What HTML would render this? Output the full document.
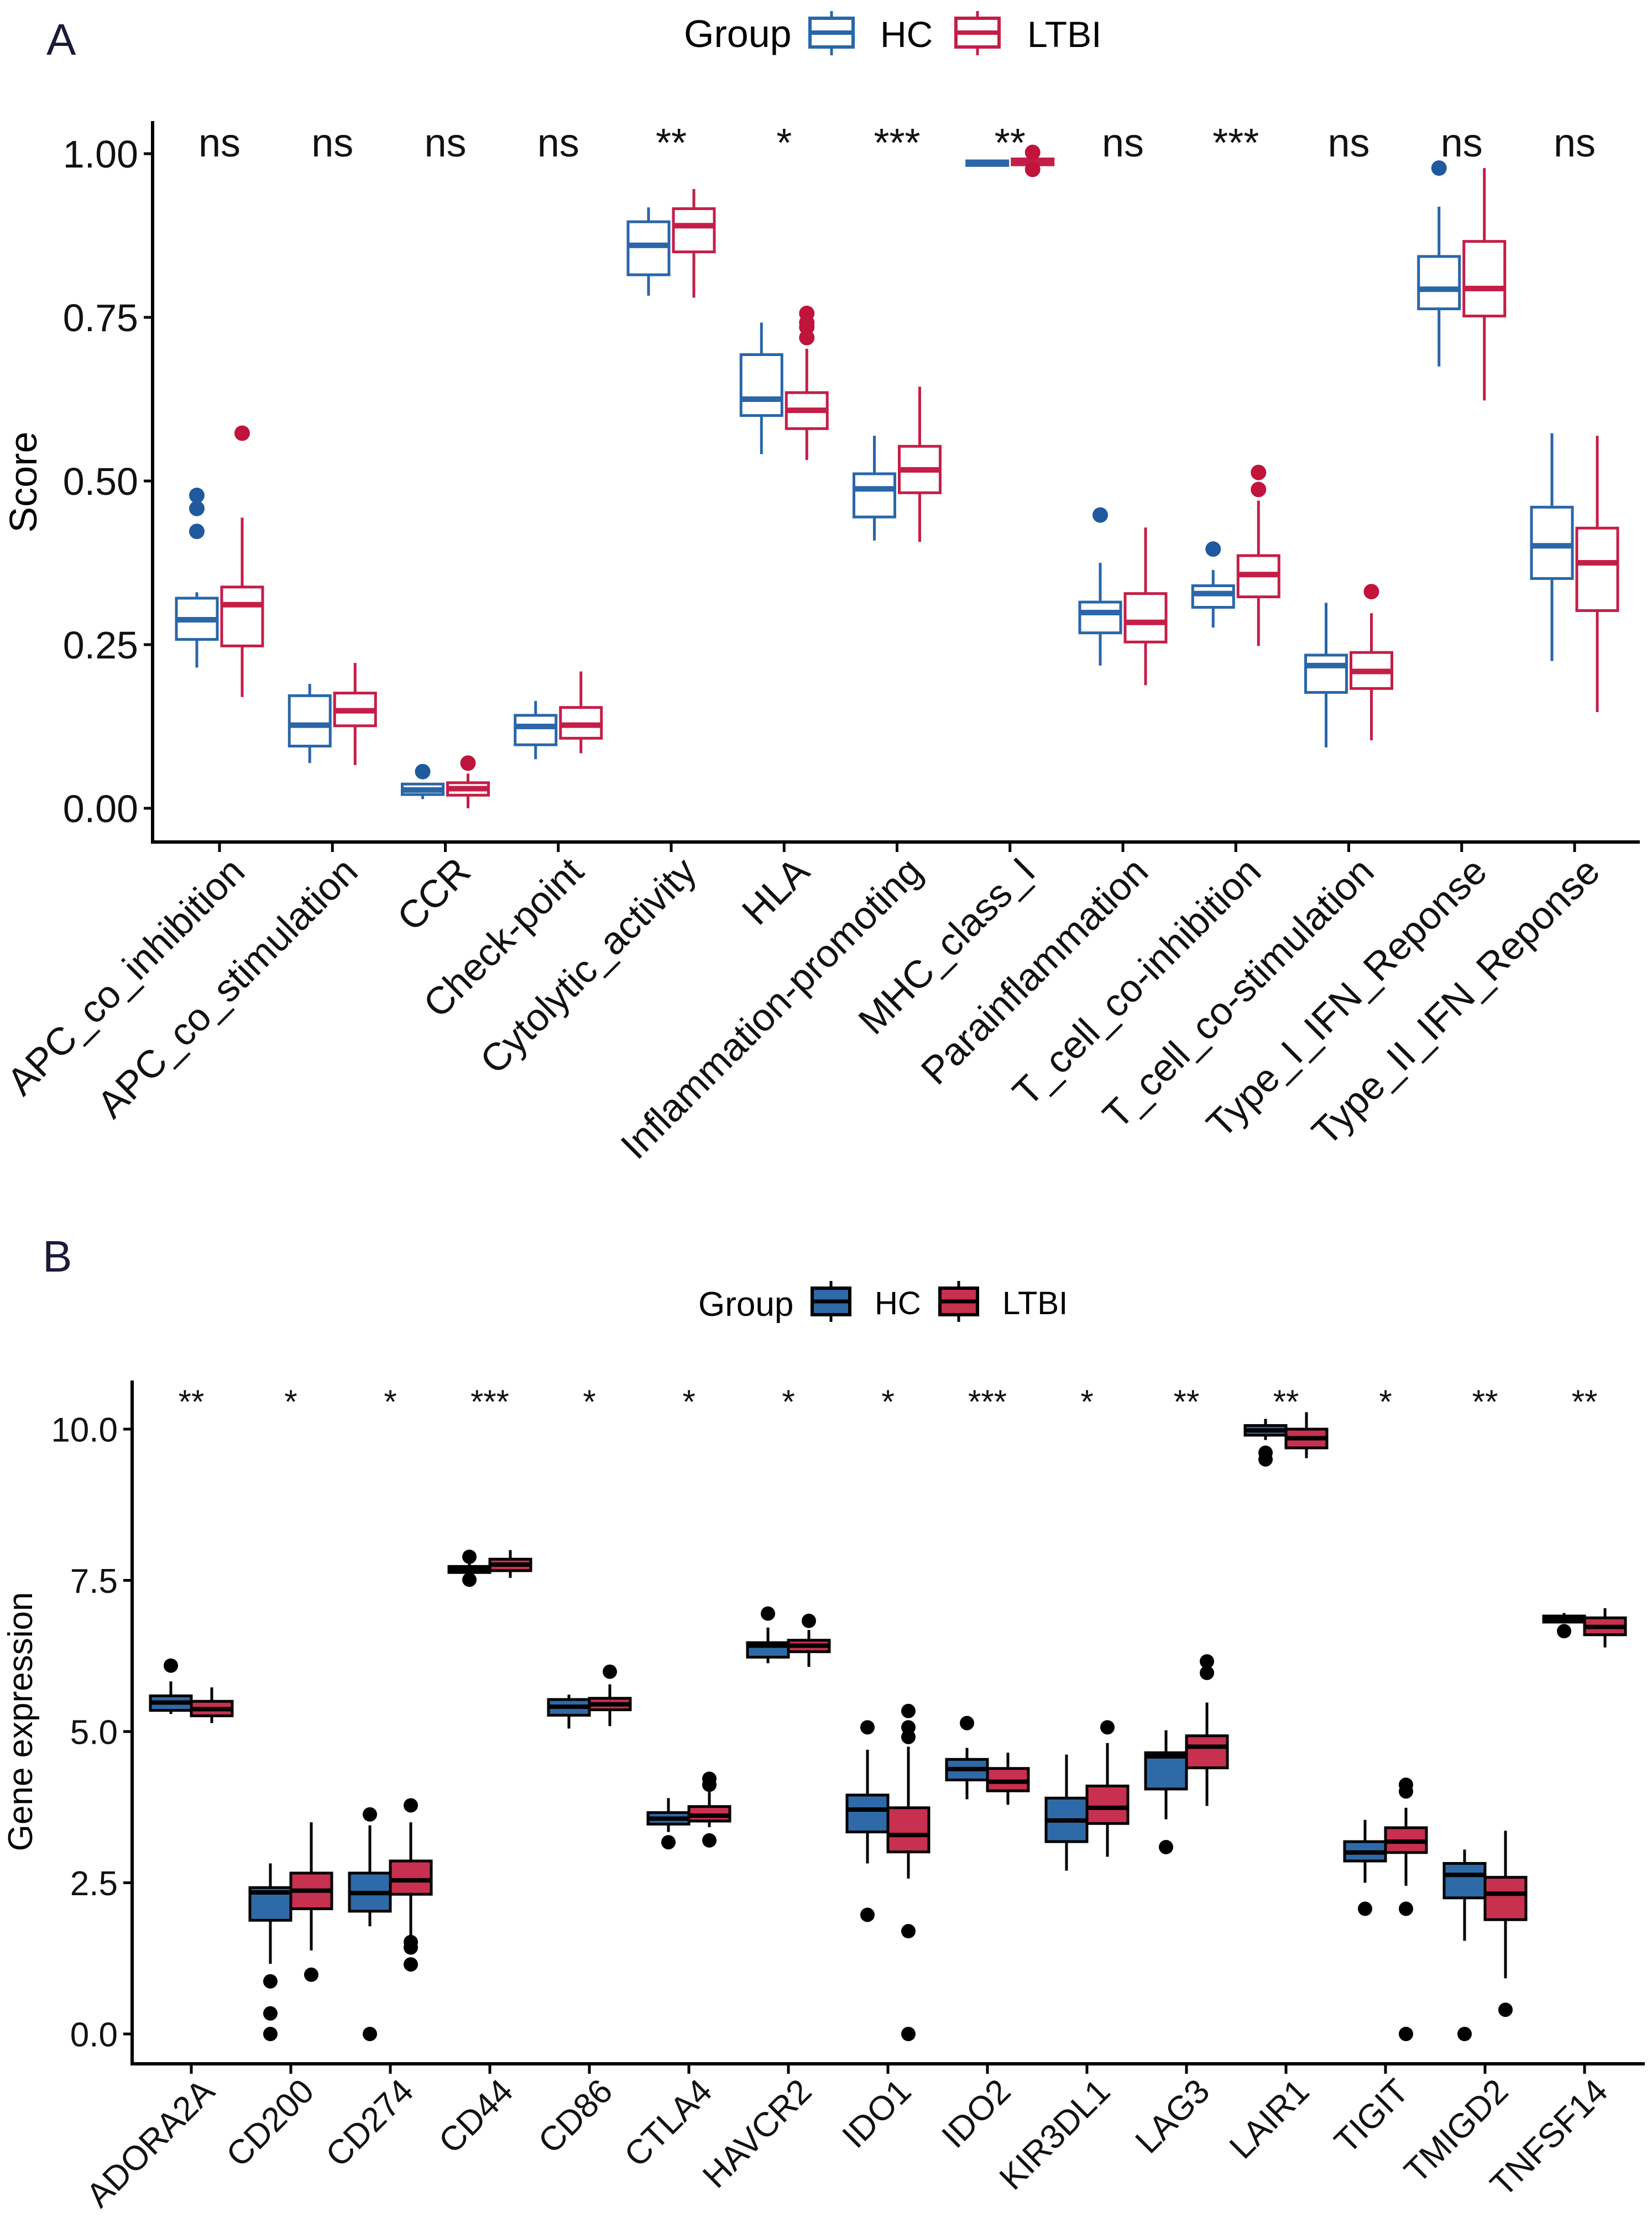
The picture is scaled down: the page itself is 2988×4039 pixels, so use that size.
<!DOCTYPE html>
<html><head><meta charset="utf-8">
<style>
html,body{margin:0;padding:0;background:#fff;}
svg{display:block;font-family:"Liberation Sans",Arial,sans-serif;}
</style></head>
<body>
<svg id="chart" width="2988" height="4039" viewBox="0 0 2988 4039" xmlns="http://www.w3.org/2000/svg">
<rect width="2988" height="4039" fill="#fff"/>
<text x="84" y="99" font-size="80" fill="#1a1a3a">A</text>
<text x="77" y="2300" font-size="80" fill="#1a1a3a">B</text>
<g>
<text x="1237" y="85" font-size="70">Group</text>
<g>
<line x1="1504" y1="20" x2="1504" y2="100" stroke="#2a66a8" stroke-width="5"/>
<rect x="1465" y="33" width="78" height="52" fill="#fff" stroke="#2a66a8" stroke-width="6"/>
<line x1="1465" y1="59" x2="1543" y2="59" stroke="#2a66a8" stroke-width="8"/>
<text x="1592" y="85" font-size="66">HC</text></g>
<g>
<line x1="1768" y1="20" x2="1768" y2="100" stroke="#c41e48" stroke-width="5"/>
<rect x="1729" y="33" width="78" height="52" fill="#fff" stroke="#c41e48" stroke-width="6"/>
<line x1="1729" y1="59" x2="1807" y2="59" stroke="#c41e48" stroke-width="8"/>
<text x="1858" y="85" font-size="66">LTBI</text></g>
</g>
<g>
<text x="1263" y="2380" font-size="62">Group</text>
<g>
<line x1="1503" y1="2317" x2="1503" y2="2391" stroke="#000" stroke-width="5"/>
<rect x="1469" y="2330" width="68" height="48" fill="#2f6aa8" stroke="#000" stroke-width="6"/>
<line x1="1469" y1="2354" x2="1537" y2="2354" stroke="#000" stroke-width="7"/>
<text x="1582" y="2377" font-size="58">HC</text></g>
<g>
<line x1="1734" y1="2317" x2="1734" y2="2391" stroke="#000" stroke-width="5"/>
<rect x="1700" y="2330" width="68" height="48" fill="#c8304f" stroke="#000" stroke-width="6"/>
<line x1="1700" y1="2354" x2="1768" y2="2354" stroke="#000" stroke-width="7"/>
<text x="1813" y="2377" font-size="58">LTBI</text></g>
</g>
<text transform="translate(66,872) rotate(-90)" text-anchor="middle" font-size="70">Score</text>
<text transform="translate(58,3114) rotate(-90)" text-anchor="middle" font-size="62">Gene expression</text>
<g id="pa"></g>
<g id="pb"></g>
</svg>
<script>
// ---- Panel A data ----
const categoriesA = ["APC_co_inhibition","APC_co_stimulation","CCR","Check-point","Cytolytic_activity","HLA","Inflammation-promoting","MHC_class_I","Parainflammation","T_cell_co-inhibition","T_cell_co-stimulation","Type_I_IFN_Reponse","Type_II_IFN_Reponse"];
const signifA = ["ns","ns","ns","ns","**","*","***","**","ns","***","ns","ns","ns"];
const ticksA = [0,0.25,0.5,0.75,1.0];
const tickLabelsA = ["0.00","0.25","0.50","0.75","1.00"];
// [whiskerLow, q1, median, q3, whiskerHigh]
const hcStatsA = [[0.215,0.258,0.288,0.321,0.330],[0.069,0.095,0.127,0.172,0.190],[0.014,0.021,0.028,0.037,0.037],[0.075,0.097,0.125,0.142,0.164],[0.783,0.815,0.860,0.896,0.918],[0.541,0.600,0.625,0.693,0.742],[0.409,0.445,0.488,0.511,0.569],[0.984,0.982,0.986,0.989,0.990],[0.218,0.268,0.299,0.315,0.375],[0.276,0.307,0.328,0.340,0.364],[0.093,0.177,0.218,0.234,0.314],[0.675,0.763,0.793,0.843,0.919],[0.225,0.351,0.401,0.460,0.573]];
const ltbiStatsA = [[0.170,0.248,0.311,0.338,0.444],[0.066,0.126,0.149,0.176,0.222],[0.0,0.020,0.030,0.039,0.053],[0.084,0.107,0.127,0.154,0.209],[0.780,0.850,0.890,0.916,0.946],[0.532,0.580,0.608,0.635,0.702],[0.407,0.482,0.517,0.553,0.644],[0.980,0.983,0.988,0.992,0.995],[0.188,0.254,0.284,0.328,0.429],[0.248,0.323,0.357,0.386,0.470],[0.104,0.183,0.209,0.238,0.298],[0.623,0.752,0.794,0.866,0.978],[0.147,0.302,0.375,0.428,0.569]];
const hcOutA = [[0.478,0.458,0.423],[],[0.056],[],[],[],[],[],[0.448],[0.396],[],[0.978],[]];
const ltbiOutA = [[0.573],[],[0.069],[],[],[0.756,0.742,0.735,0.719],[],[1.002,0.976],[],[0.513,0.487],[0.331],[],[]];
// ---- Panel B data ----
const categoriesB = ["ADORA2A","CD200","CD274","CD44","CD86","CTLA4","HAVCR2","IDO1","IDO2","KIR3DL1","LAG3","LAIR1","TIGIT","TMIGD2","TNFSF14"];
const signifB = ["**","*","*","***","*","*","*","*","***","*","**","**","*","**","**"];
const ticksB = [0,2.5,5,7.5,10];
const tickLabelsB = ["0.0","2.5","5.0","7.5","10.0"];
const hcStatsB = [[5.29,5.35,5.48,5.59,5.83],[1.16,1.88,2.34,2.42,2.82],[1.78,2.03,2.33,2.66,3.45],[7.58,7.63,7.68,7.73,7.78],[5.05,5.27,5.41,5.53,5.61],[3.34,3.47,3.56,3.66,3.90],[6.13,6.23,6.42,6.47,6.72],[2.82,3.34,3.71,3.95,4.70],[3.88,4.20,4.38,4.54,4.73],[2.70,3.18,3.53,3.90,4.62],[3.55,4.05,4.59,4.65,5.02],[9.82,9.90,9.98,10.06,10.17],[2.50,2.86,3.00,3.18,3.54],[1.54,2.25,2.63,2.82,3.05],[6.81,6.81,6.87,6.91,6.96]];
const ltbiStatsB = [[5.14,5.26,5.37,5.50,5.73],[1.38,2.07,2.37,2.66,3.50],[1.62,2.31,2.54,2.86,3.50],[7.54,7.66,7.76,7.85,8.00],[5.09,5.36,5.45,5.55,5.78],[3.42,3.52,3.61,3.76,4.00],[6.07,6.32,6.42,6.51,6.68],[2.57,3.01,3.29,3.74,4.75],[3.79,4.02,4.17,4.39,4.65],[2.93,3.48,3.74,4.10,4.81],[3.77,4.40,4.75,4.93,5.48],[9.52,9.69,9.85,10.00,10.28],[2.45,3.00,3.18,3.41,3.74],[0.92,1.89,2.32,2.59,3.36],[6.39,6.60,6.73,6.88,7.04]];
const hcOutB = [[6.09],[0.87,0.34,0.0],[3.63,0.0],[7.89,7.51],[],[3.17],[6.95],[5.07,1.97],[5.14],[],[3.09],[9.61,9.50],[2.07],[0.0],[6.66]];
const ltbiOutB = [[],[0.98],[3.78,1.52,1.43,1.15],[],[5.99],[4.22,4.12,3.2],[6.83],[5.34,5.07,4.91,1.70,0.0],[],[5.07],[6.16,5.97],[],[4.12,4.01,2.07,0.0],[0.40],[]];

const NS = "http://www.w3.org/2000/svg";
function mk(tag, attrs, parent){const e=document.createElementNS(NS,tag);for(const k in attrs)e.setAttribute(k,attrs[k]);parent.appendChild(e);return e;}

function drawPanel(cfg){
  const g=document.getElementById(cfg.id);
  const y=cfg.y, x=cfg.x;
  const ya=mk("line",{x1:cfg.axX,y1:cfg.axTop,x2:cfg.axX,y2:cfg.axY+3,stroke:"#000","stroke-width":6},g);
  
  
  const xa=mk("line",{x1:cfg.axX-3,y1:cfg.axY,x2:cfg.axRight,y2:cfg.axY,stroke:"#000","stroke-width":6},g);
  
  
  cfg.ticks.forEach((t,i)=>{
    const tl=mk("line",{x1:cfg.axX-16,y1:y(t),x2:cfg.axX,y2:y(t),stroke:"#000","stroke-width":5},g);
    
    
    const tx=mk("text",{x:cfg.axX-26,y:y(t)+cfg.tickFs*0.36,"text-anchor":"end","font-size":cfg.tickFs,fill:"#111"},g);
    tx.textContent=cfg.tickLabels[i];
    
    
  });
  cfg.cats.forEach((c,i)=>{
    const cx=x(i);
    const tk=mk("line",{x1:cx,y1:cfg.axY,x2:cx,y2:cfg.axY+18,stroke:"#000","stroke-width":5},g);
    
    
    const lb=mk("text",{transform:`translate(${cx+14},${cfg.axY+22}) rotate(-45)`,"text-anchor":"end",dy:"0.72em","font-size":cfg.catFs,fill:"#111"},g);
    lb.textContent=c;
    
    
    const s=mk("text",{x:cx,y:cfg.sigY,"text-anchor":"middle","font-size":cfg.sigFs,fill:"#111"},g);
    s.textContent=cfg.sig[i];
    
    
    [[cfg.hc,cfg.hcOut,-cfg.off,cfg.hcCol,cfg.hcFill,cfg.hcPt,'hc'],[cfg.lt,cfg.ltOut,cfg.off,cfg.ltCol,cfg.ltFill,cfg.ltPt,'ltbi']].forEach(([st,outs,o,col,fill,pt,nm])=>{
      const d=st[i], bx=cx+o, w=cfg.bw;
      const bg=mk("g",{},g);
      
      
      mk("line",{x1:bx,y1:y(d[0]),x2:bx,y2:y(d[4]),stroke:col,"stroke-width":cfg.lw},bg);
      mk("rect",{x:bx-w/2,y:y(d[3]),width:w,height:Math.max(y(d[1])-y(d[3]),2),fill:fill,stroke:col,"stroke-width":cfg.lw},bg);
      mk("line",{x1:bx-w/2,y1:y(d[2]),x2:bx+w/2,y2:y(d[2]),stroke:cfg.medCol||col,"stroke-width":cfg.medW},bg);
      outs[i].forEach(v=>{
        const p=mk("circle",{cx:bx,cy:y(v),r:cfg.pr,fill:pt},g);
        
        
      });
    });
  });
}
drawPanel({id:"pa",pre:"a",y:v=>1462-1184*v,x:i=>397+204.25*i,axX:276,axTop:219,axY:1523,axRight:2966,
  ticks:ticksA,tickLabels:tickLabelsA,tickFs:70,cats:categoriesA,catFs:70,sig:signifA,sigY:283,sigFs:72,
  hc:hcStatsA,lt:ltbiStatsA,hcOut:hcOutA,ltOut:ltbiOutA,off:41,bw:74,lw:5,medW:10,pr:14,
  hcCol:"#2a66a8",ltCol:"#c41e48",hcFill:"#fff",ltFill:"#fff",hcPt:"#1f5a9e",ltPt:"#c0143c"});
drawPanel({id:"pb",pre:"b",y:v=>3679-109.4*v,x:i=>346+180*i,axX:239,axTop:2497,axY:3733,axRight:2975,
  ticks:ticksB,tickLabels:tickLabelsB,tickFs:62,cats:categoriesB,catFs:62,sig:signifB,sigY:2556,sigFs:60,
  hc:hcStatsB,lt:ltbiStatsB,hcOut:hcOutB,ltOut:ltbiOutB,off:37,bw:74,lw:5,medW:8,pr:13,medCol:"#000",
  hcCol:"#000",ltCol:"#000",hcFill:"#2f6aa8",ltFill:"#c8304f",hcPt:"#000",ltPt:"#000"});
</script>
</body></html>
